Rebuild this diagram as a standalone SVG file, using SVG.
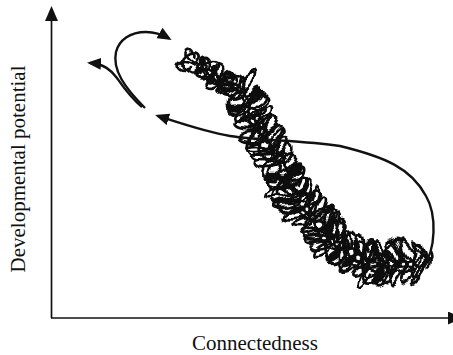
<svg xmlns="http://www.w3.org/2000/svg" width="453" height="355" viewBox="0 0 453 355">
<style>
.ax{fill:none;stroke:#111;stroke-width:1.7}
.cv{fill:none;stroke:#111;stroke-width:2.4}
.lbl{font-family:"Liberation Serif","Times New Roman",serif;font-size:21px;fill:#111}
.sc{fill:none;stroke:#111;stroke-width:2.7;stroke-linejoin:round}
</style>
<defs>
<marker id="ah" markerUnits="userSpaceOnUse" markerWidth="15" markerHeight="13" viewBox="0 0 15 13" refX="12" refY="6.5" orient="auto"><path d="M0,0 L15,6.5 L0,13 Z" fill="#111"/></marker>
<marker id="ah2" markerUnits="userSpaceOnUse" markerWidth="14" markerHeight="12" viewBox="0 0 14 12" refX="11" refY="6" orient="auto"><path d="M0,0 L14,6 L0,12 Z" fill="#111"/></marker>
<filter id="rough" filterUnits="userSpaceOnUse" x="150" y="20" width="310" height="300"><feTurbulence type="fractalNoise" baseFrequency="0.045" numOctaves="1" seed="5" result="n"/><feDisplacementMap in="SourceGraphic" in2="n" scale="16" xChannelSelector="R" yChannelSelector="G"/></filter>
<path id="S4" class="sc" vector-effect="non-scaling-stroke" d="M1.3 0c.117-.552-.214-1-.65-1c-.436 0-.767.448-.65 1c.117.552.681 1 1.35 1c.669 0 1.233-.448 1.35-1c.083-.276-.146-.5-.45-.5c-.304 0-.533.224-.45.5c.083.552.48 1 .95 1c.47 0 .867-.448.95-1c.15-.608-.237-1.1-.75-1.1c-.513 0-.9.492-.75 1.1c.15.276.837.5 1.65.5c.813 0 1.5-.224 1.65-.5c.075-.497-.119-.9-.375-.9c-.256 0-.45.403-.375.9c.075.387.419.7.825.7c.406 0 .75-.313.825-.7"/>
<path id="S5" class="sc" vector-effect="non-scaling-stroke" d="M1.3 0c.117-.552-.214-1-.65-1c-.436 0-.767.448-.65 1c.117.552.681 1 1.35 1c.669 0 1.233-.448 1.35-1c.083-.276-.146-.5-.45-.5c-.304 0-.533.224-.45.5c.083.552.48 1 .95 1c.47 0 .867-.448.95-1c.15-.608-.237-1.1-.75-1.1c-.513 0-.9.492-.75 1.1c.15.276.837.5 1.65.5c.813 0 1.5-.224 1.65-.5c.075-.497-.119-.9-.375-.9c-.256 0-.45.403-.375.9c.075.387.419.7.825.7c.406 0 .75-.313.825-.7c.117-.552-.214-1-.65-1c-.436 0-.767.448-.65 1c.117.552.681 1 1.35 1c.669 0 1.233-.448 1.35-1"/>
<path id="S6" class="sc" vector-effect="non-scaling-stroke" d="M1.3 0c.117-.552-.214-1-.65-1c-.436 0-.767.448-.65 1c.117.552.681 1 1.35 1c.669 0 1.233-.448 1.35-1c.083-.276-.146-.5-.45-.5c-.304 0-.533.224-.45.5c.083.552.48 1 .95 1c.47 0 .867-.448.95-1c.15-.608-.237-1.1-.75-1.1c-.513 0-.9.492-.75 1.1c.15.276.837.5 1.65.5c.813 0 1.5-.224 1.65-.5c.075-.497-.119-.9-.375-.9c-.256 0-.45.403-.375.9c.075.387.419.7.825.7c.406 0 .75-.313.825-.7c.117-.552-.214-1-.65-1c-.436 0-.767.448-.65 1c.117.552.681 1 1.35 1c.669 0 1.233-.448 1.35-1c.15-.608-.237-1.1-.75-1.1c-.513 0-.9.492-.75 1.1c.15.276.837.5 1.65.5c.813 0 1.5-.224 1.65-.5"/>
<path id="S9" class="sc" vector-effect="non-scaling-stroke" d="M1.3 0c.117-.552-.214-1-.65-1c-.436 0-.767.448-.65 1c.117.552.681 1 1.35 1c.669 0 1.233-.448 1.35-1c.083-.276-.146-.5-.45-.5c-.304 0-.533.224-.45.5c.083.552.48 1 .95 1c.47 0 .867-.448.95-1c.15-.608-.237-1.1-.75-1.1c-.513 0-.9.492-.75 1.1c.15.276.837.5 1.65.5c.813 0 1.5-.224 1.65-.5c.075-.497-.119-.9-.375-.9c-.256 0-.45.403-.375.9c.075.387.419.7.825.7c.406 0 .75-.313.825-.7c.117-.552-.214-1-.65-1c-.436 0-.767.448-.65 1c.117.552.681 1 1.35 1c.669 0 1.233-.448 1.35-1c.15-.608-.237-1.1-.75-1.1c-.513 0-.9.492-.75 1.1c.15.276.837.5 1.65.5c.813 0 1.5-.224 1.65-.5c.083-.276-.146-.5-.45-.5c-.304 0-.533.224-.45.5c.083.552.48 1 .95 1c.47 0 .867-.448.95-1c.117-.552-.214-1-.65-1c-.436 0-.767.448-.65 1c.117.552.681 1 1.35 1c.669 0 1.233-.448 1.35-1c.075-.497-.119-.9-.375-.9c-.256 0-.45.403-.375.9c.075.387.419.7.825.7c.406 0 .75-.313.825-.7"/>
<path id="T6" class="sc" vector-effect="non-scaling-stroke" d="M1.5 0c.15-.608-.237-1.1-.75-1.1c-.513 0-.9.492-.75 1.1c.15.276.837.5 1.65.5c.813 0 1.5-.224 1.65-.5c.075-.497-.119-.9-.375-.9c-.256 0-.45.403-.375.9c.075.387.419.7.825.7c.406 0 .75-.313.825-.7c.117-.552-.214-1-.65-1c-.436 0-.767.448-.65 1c.117.552.681 1 1.35 1c.669 0 1.233-.448 1.35-1c.083-.276-.146-.5-.45-.5c-.304 0-.533.224-.45.5c.083.552.48 1 .95 1c.47 0 .867-.448.95-1c.15-.608-.237-1.1-.75-1.1c-.513 0-.9.492-.75 1.1c.15.276.837.5 1.65.5c.813 0 1.5-.224 1.65-.5c.117-.552-.214-1-.65-1c-.436 0-.767.448-.65 1c.117.552.681 1 1.35 1c.669 0 1.233-.448 1.35-1"/>
<path id="T7" class="sc" vector-effect="non-scaling-stroke" d="M1.5 0c.15-.608-.237-1.1-.75-1.1c-.513 0-.9.492-.75 1.1c.15.276.837.5 1.65.5c.813 0 1.5-.224 1.65-.5c.075-.497-.119-.9-.375-.9c-.256 0-.45.403-.375.9c.075.387.419.7.825.7c.406 0 .75-.313.825-.7c.117-.552-.214-1-.65-1c-.436 0-.767.448-.65 1c.117.552.681 1 1.35 1c.669 0 1.233-.448 1.35-1c.083-.276-.146-.5-.45-.5c-.304 0-.533.224-.45.5c.083.552.48 1 .95 1c.47 0 .867-.448.95-1c.15-.608-.237-1.1-.75-1.1c-.513 0-.9.492-.75 1.1c.15.276.837.5 1.65.5c.813 0 1.5-.224 1.65-.5c.117-.552-.214-1-.65-1c-.436 0-.767.448-.65 1c.117.552.681 1 1.35 1c.669 0 1.233-.448 1.35-1c.075-.497-.119-.9-.375-.9c-.256 0-.45.403-.375.9c.075.387.419.7.825.7c.406 0 .75-.313.825-.7"/>
<path id="T10" class="sc" vector-effect="non-scaling-stroke" d="M1.5 0c.15-.608-.237-1.1-.75-1.1c-.513 0-.9.492-.75 1.1c.15.276.837.5 1.65.5c.813 0 1.5-.224 1.65-.5c.075-.497-.119-.9-.375-.9c-.256 0-.45.403-.375.9c.075.387.419.7.825.7c.406 0 .75-.313.825-.7c.117-.552-.214-1-.65-1c-.436 0-.767.448-.65 1c.117.552.681 1 1.35 1c.669 0 1.233-.448 1.35-1c.083-.276-.146-.5-.45-.5c-.304 0-.533.224-.45.5c.083.552.48 1 .95 1c.47 0 .867-.448.95-1c.15-.608-.237-1.1-.75-1.1c-.513 0-.9.492-.75 1.1c.15.276.837.5 1.65.5c.813 0 1.5-.224 1.65-.5c.117-.552-.214-1-.65-1c-.436 0-.767.448-.65 1c.117.552.681 1 1.35 1c.669 0 1.233-.448 1.35-1c.075-.497-.119-.9-.375-.9c-.256 0-.45.403-.375.9c.075.387.419.7.825.7c.406 0 .75-.313.825-.7c.083-.276-.146-.5-.45-.5c-.304 0-.533.224-.45.5c.083.552.48 1 .95 1c.47 0 .867-.448.95-1c.117-.552-.214-1-.65-1c-.436 0-.767.448-.65 1c.117.552.681 1 1.35 1c.669 0 1.233-.448 1.35-1c.15-.608-.237-1.1-.75-1.1c-.513 0-.9.492-.75 1.1c.15.276.837.5 1.65.5c.813 0 1.5-.224 1.65-.5"/>
<path id="T12" class="sc" vector-effect="non-scaling-stroke" d="M1.5 0c.15-.608-.237-1.1-.75-1.1c-.513 0-.9.492-.75 1.1c.15.276.837.5 1.65.5c.813 0 1.5-.224 1.65-.5c.075-.497-.119-.9-.375-.9c-.256 0-.45.403-.375.9c.075.387.419.7.825.7c.406 0 .75-.313.825-.7c.117-.552-.214-1-.65-1c-.436 0-.767.448-.65 1c.117.552.681 1 1.35 1c.669 0 1.233-.448 1.35-1c.083-.276-.146-.5-.45-.5c-.304 0-.533.224-.45.5c.083.552.48 1 .95 1c.47 0 .867-.448.95-1c.15-.608-.237-1.1-.75-1.1c-.513 0-.9.492-.75 1.1c.15.276.837.5 1.65.5c.813 0 1.5-.224 1.65-.5c.117-.552-.214-1-.65-1c-.436 0-.767.448-.65 1c.117.552.681 1 1.35 1c.669 0 1.233-.448 1.35-1c.075-.497-.119-.9-.375-.9c-.256 0-.45.403-.375.9c.075.387.419.7.825.7c.406 0 .75-.313.825-.7c.083-.276-.146-.5-.45-.5c-.304 0-.533.224-.45.5c.083.552.48 1 .95 1c.47 0 .867-.448.95-1c.117-.552-.214-1-.65-1c-.436 0-.767.448-.65 1c.117.552.681 1 1.35 1c.669 0 1.233-.448 1.35-1c.15-.608-.237-1.1-.75-1.1c-.513 0-.9.492-.75 1.1c.15.276.837.5 1.65.5c.813 0 1.5-.224 1.65-.5c.075-.497-.119-.9-.375-.9c-.256 0-.45.403-.375.9c.075.387.419.7.825.7c.406 0 .75-.313.825-.7c.117-.552-.214-1-.65-1c-.436 0-.767.448-.65 1c.117.552.681 1 1.35 1c.669 0 1.233-.448 1.35-1"/>
</defs>
<rect width="453" height="355" fill="#fff"/>
<g id="axes">
<path class="ax" d="M51.5,318 V9" marker-end="url(#ah)"/>
<path class="ax" d="M51,318 H460" marker-end="url(#ah)"/>
</g>
<g id="labels">
<text class="lbl" x="255" y="350" text-anchor="middle">Connectedness</text>
<text class="lbl" transform="translate(25,169) rotate(-90)" text-anchor="middle">Developmental potential</text>
</g>
<g id="scribble" filter="url(#rough)">
<use href="#S5" transform="translate(184 57) rotate(30.5) skewX(-14) scale(9.1 12)"/>
<use href="#T7" transform="translate(184 57) rotate(30.5) translate(0 -5) skewX(25) scale(6.6 7.5)"/>
<use href="#T7" transform="translate(184 57) rotate(30.5) translate(0 5) skewX(-25) scale(6.6 -7.5)"/>
<use href="#S9" transform="translate(238 84) rotate(63.4) skewX(14) scale(9.4 19)"/>
<use href="#T12" transform="translate(238 84) rotate(63.4) translate(0 -8) skewX(25) scale(7 12)"/>
<use href="#T12" transform="translate(238 84) rotate(63.4) translate(0 8) skewX(-25) scale(7 -12)"/>
<use href="#S6" transform="translate(283 182) rotate(49) skewX(-14) scale(9.4 20)"/>
<use href="#T10" transform="translate(283 182) rotate(49) translate(0 -9) skewX(25) scale(6 13)"/>
<use href="#T10" transform="translate(283 182) rotate(49) translate(0 9) skewX(-25) scale(6 -13)"/>
<use href="#S4" transform="translate(325 238) rotate(29.5) skewX(14) scale(9.5 19)"/>
<use href="#T6" transform="translate(325 238) rotate(29.5) translate(0 -8) skewX(25) scale(6.2 12)"/>
<use href="#T6" transform="translate(325 238) rotate(29.5) translate(0 8) skewX(-25) scale(6.2 -12)"/>
<use href="#S4" transform="translate(362 264) rotate(-2) skewX(-14) scale(10.2 20)"/>
<use href="#T7" transform="translate(362 264) rotate(-2) translate(0 -9) skewX(25) scale(6.1 13)"/>
<use href="#T7" transform="translate(362 264) rotate(-2) translate(0 9) skewX(-25) scale(6.1 -13)"/>
</g>
<g id="arrows">
<path class="cv" d="M423,267 C436,250 437,215 426,196 C411,168 385,157 340,146 C300,140 262,141 230,136 C206,132 186,125 158,116" marker-end="url(#ah2)"/>
<path class="cv" d="M145,108 C125,88 112,70 116,52 C119,40 130,32 146,32 C156,32 163,35 169,38.5" marker-end="url(#ah2)"/>
<path class="cv" d="M142,107 C130,97 124,88 117,78 C111,70 104,64 90,63" marker-end="url(#ah2)"/>
</g>
</svg>
